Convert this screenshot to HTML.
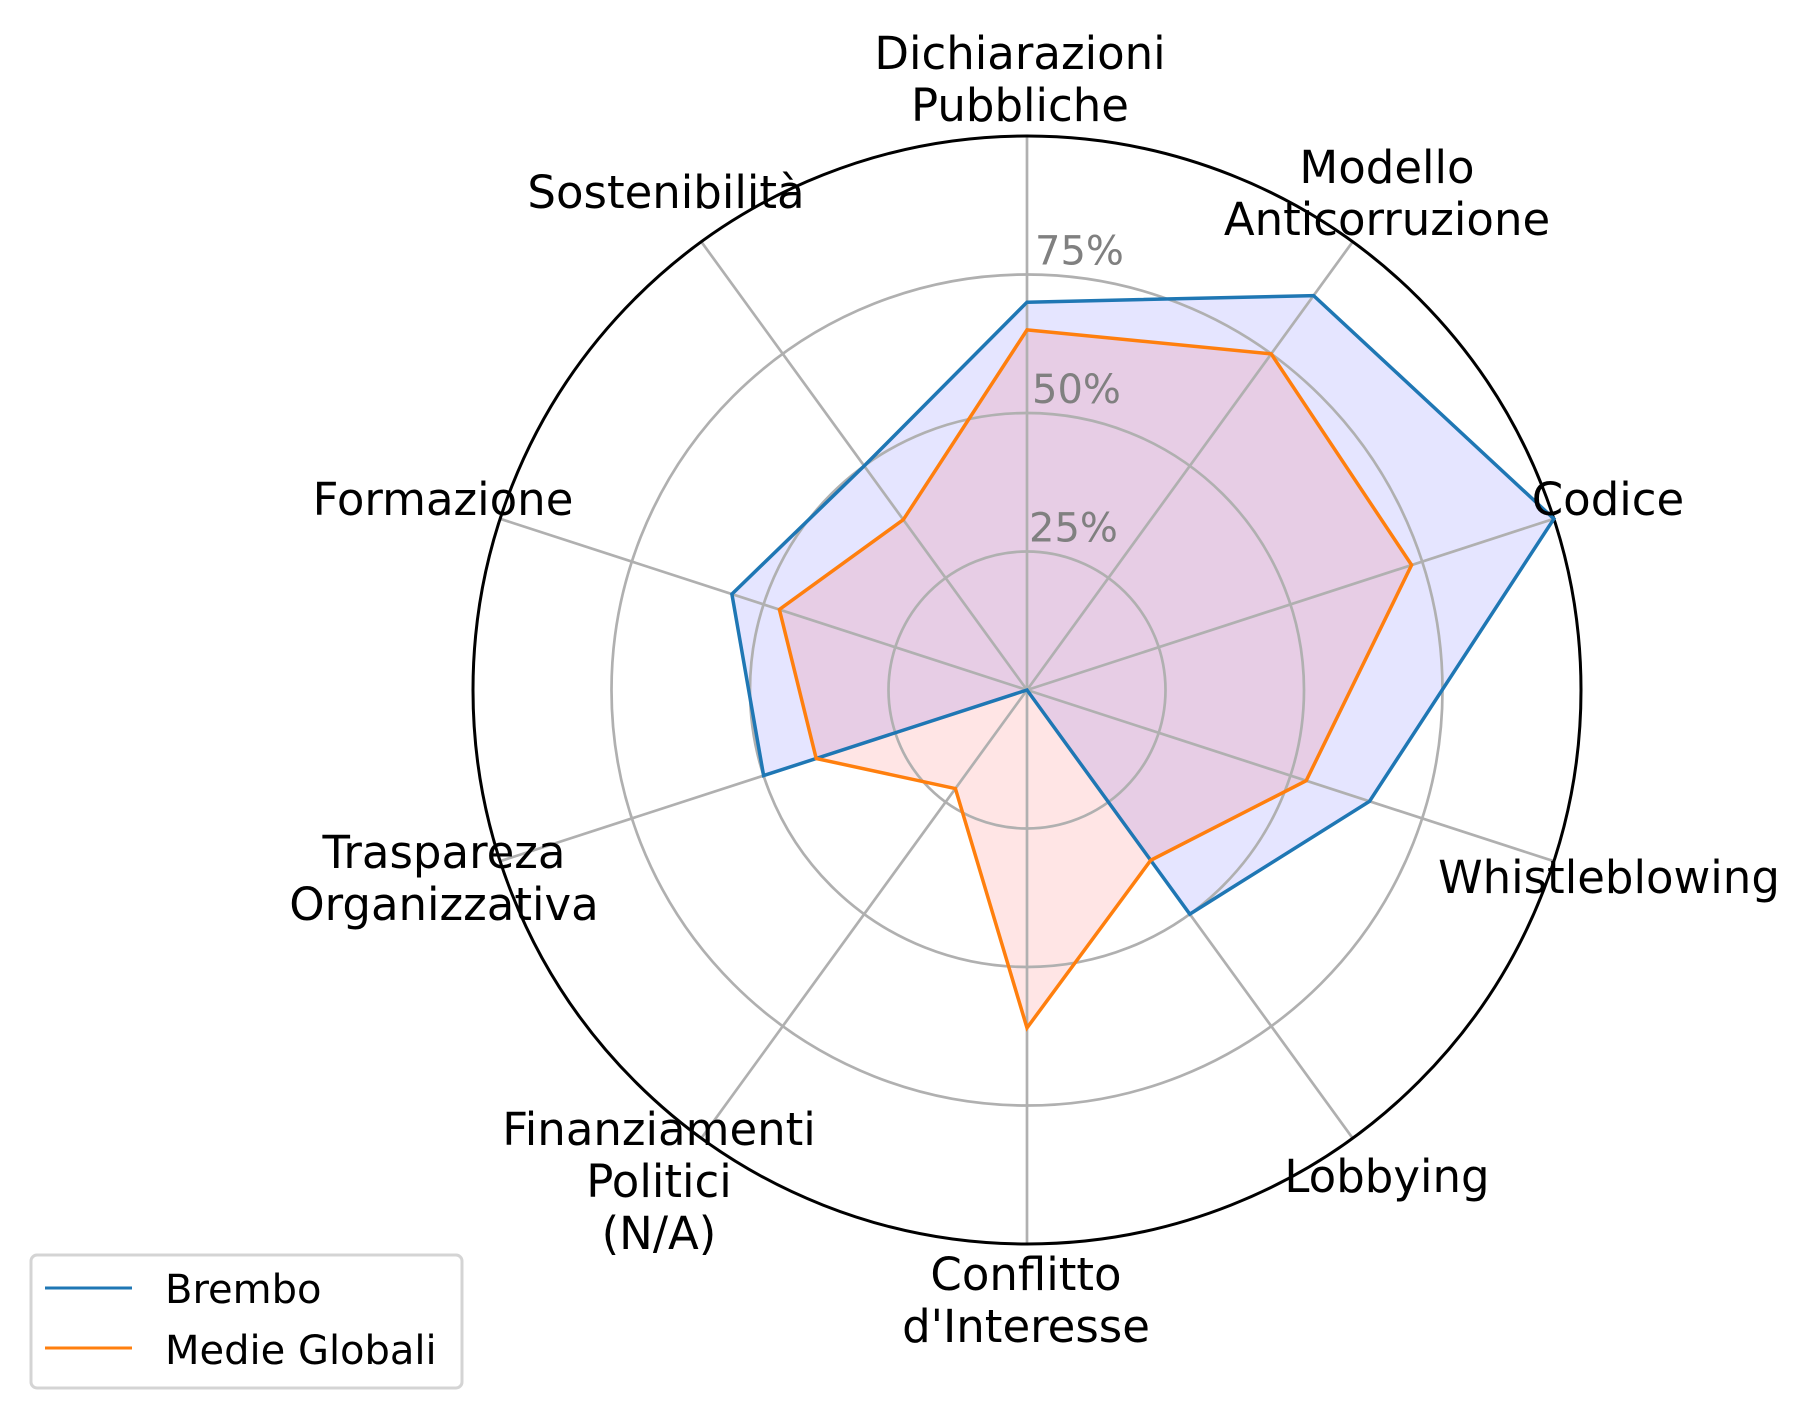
<!DOCTYPE html>
<html><head><meta charset="utf-8"><style>
html,body{margin:0;padding:0;background:#fff;}
svg{display:block;font-family:"DejaVu Sans","Liberation Sans",sans-serif;}
</style></head><body>
<svg id="chart" width="1813" height="1419" viewBox="0 0 1813 1419" xmlns="http://www.w3.org/2000/svg">
<g id="fills"></g>
<g id="grid"></g>
<g id="series"></g>
<g id="labels"></g>
<g id="legend">
  <rect x="31" y="1255" width="431" height="133" rx="6" fill="#fff" stroke="#d4d4d4" stroke-width="3"/>
  <line x1="45" y1="1288" x2="132" y2="1288" stroke="#1f77b4" stroke-width="3"/>
  <text x="165" y="1303" font-size="40">Brembo</text>
  <line x1="45" y1="1348" x2="132" y2="1348" stroke="#ff7f0e" stroke-width="3"/>
  <text x="165" y="1364" font-size="40">Medie Globali</text>
</g>
</svg>
<script>
const categories = ["Dichiarazioni\nPubbliche","Modello\nAnticorruzione","Codice","Whistleblowing","Lobbying","Conflitto\nd'Interesse","Finanziamenti\nPolitici\n(N/A)","Traspareza\nOrganizzativa","Formazione","Sostenibilità"];
const brembo = [70, 88, 100, 65, 50, 0, 0, 50, 56, 50];
const medie = [65, 75, 73, 53, 38, 61, 22, 40, 47, 38];
const tickValues = [25, 50, 75];
const tickLabels = ["25%", "50%", "75%"];

const NS = "http://www.w3.org/2000/svg";
const cx = 1027, cy = 690, R = 554, maxV = 100;
function rScale(v){ return v / maxV * R; }
function angle(i){ return i * 2 * Math.PI / categories.length; }
function pt(i, v){ const a = angle(i), r = rScale(v); return [cx + r*Math.sin(a), cy - r*Math.cos(a)]; }
function mk(tag, attrs, parent){ const e = document.createElementNS(NS, tag); for (const k in attrs) e.setAttribute(k, attrs[k]); parent.appendChild(e); return e; }

const grid = document.getElementById('grid');
tickValues.forEach((t, j) => {
  const c = mk('circle', {cx: cx, cy: cy, r: rScale(t), fill: 'none', stroke: '#b0b0b0', 'stroke-width': 2.7}, grid);
  
  
});
categories.forEach((c, i) => {
  const p = pt(i, maxV);
  const l = mk('line', {x1: cx, y1: cy, x2: p[0], y2: p[1], stroke: '#b0b0b0', 'stroke-width': 2.7}, grid);
  
  
});
const outer = mk('circle', {cx: cx, cy: cy, r: R, fill: 'none', stroke: '#000', 'stroke-width': 3}, grid);


tickValues.forEach((t, j) => {
  const y = cy - rScale(t);
  const tx = mk('text', {x: cx + 2 + j*3, y: y - 10, 'font-size': 40, fill: '#808080'}, grid);
  tx.textContent = tickLabels[j];
  
  
});

const fills = document.getElementById('fills');
const series = document.getElementById('series');
function drawSeries(vals, stroke, fill, name){
  const pts = vals.map((v, i) => pt(i, v));
  const d = pts.map((p, i) => (i ? 'L' : 'M') + p[0].toFixed(1) + ' ' + p[1].toFixed(1)).join(' ') + ' Z';
  const f = mk('path', {d: d, fill: fill, 'fill-opacity': 0.1, stroke: 'none'}, fills);
  
  
  const l = mk('path', {d: d, fill: 'none', stroke: stroke, 'stroke-width': 3.5, 'stroke-linejoin': 'miter'}, series);
  
  
}
drawSeries(brembo, '#1f77b4', '#0000ff', 'brembo');
drawSeries(medie, '#ff7f0e', '#ff0000', 'medie-globali');

const labelPos = [[1020,69],[1387,183],[1608,515],[1609,893],[1387,1192],[1026,1290],[659,1145],[444,868],[443,515],[666,208]];
const labels = document.getElementById('labels');
categories.forEach((c, i) => {
  const t = mk('text', {x: labelPos[i][0], y: labelPos[i][1], 'font-size': 45, 'text-anchor': 'middle', fill: '#000'}, labels);
  
  
  c.split('\n').forEach((ln, k) => {
    const s = mk('tspan', {x: labelPos[i][0], dy: k ? 52 : 0}, t);
    s.textContent = ln;
  });
});
</script>
</body></html>
